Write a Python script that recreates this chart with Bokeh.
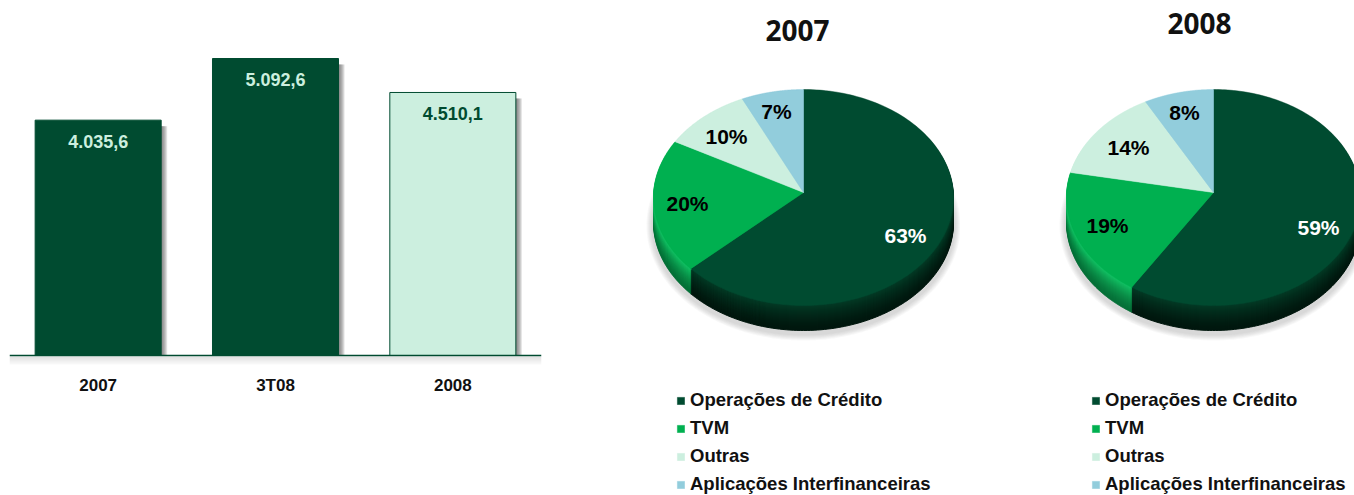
import numpy as np
from bokeh.plotting import figure, ColumnDataSource
from bokeh.layouts import row
from bokeh.models import Range1d, FactorRange, Legend
from bokeh.core.properties import value
from bokeh.transform import dodge
from bokeh.embed import file_html
from bokeh.resources import INLINE

# ---- data ----
bar_categories = ["2007", "3T08", "2008"]
bar_values = [4035.6, 5092.6, 4510.1]
bar_labels = ["4.035,6", "5.092,6", "4.510,1"]
slice_names = ["Operações de Crédito", "TVM", "Outras", "Aplicações Interfinanceiras"]
shares_2007 = [63, 20, 10, 7]
shares_2008 = [59, 19, 14, 8]

# ---- style ----
DARK = "#004B30"
GREEN = "#00B050"
LIGHT = "#CCEFDF"
BLUE = "#92CDDC"
SLICE_COLORS = [DARK, GREEN, LIGHT, BLUE]
TOP_PX, BASE_PX, PAGE_H = 0, 355, 495
PX_PER_UNIT = 297 / 5092.6


def mix(a, b, t):
    ca = [int(a[i:i + 2], 16) for i in (1, 3, 5)]
    cb = [int(b[i:i + 2], 16) for i in (1, 3, 5)]
    return "#%02x%02x%02x" % tuple(round(x + (y - x) * t) for x, y in zip(ca, cb))


# ---- bar chart ----
FRAME_W = 532
bar = figure(width=560, height=PAGE_H, x_range=FactorRange(*bar_categories, range_padding=0, factor_padding=0),
             y_range=Range1d((BASE_PX - PAGE_H) / PX_PER_UNIT, BASE_PX / PX_PER_UNIT),
             output_backend="svg", toolbar_location=None,
             min_border_left=9, min_border_right=19, min_border_top=0, min_border_bottom=0,
             frame_align=False)
bar.frame_width = FRAME_W
bar.frame_height = PAGE_H
bar.outline_line_color = None
bar.grid.visible = False
bar.yaxis.visible = False
bar.xaxis.fixed_location = 0
bar.xaxis.axis_line_color = DARK
bar.xaxis.axis_line_width = 1.5
bar.xaxis.major_tick_line_color = None
bar.xaxis.minor_tick_line_color = None
bar.xaxis.major_label_text_font = "Liberation Sans"
bar.xaxis.major_label_text_font_style = "bold"
bar.xaxis.major_label_text_font_size = "17px"
bar.xaxis.major_label_text_color = "#111111"
bar.xaxis.major_label_standoff = 14

# soft shadow below the base line
for i in range(1, 9):
    bar.hbar(y=-(i + 0.5) / PX_PER_UNIT, left=0, right=3, height=1 / PX_PER_UNIT,
             fill_color="#808080", fill_alpha=0.26 * (1 - i / 10), line_color=None)

src = ColumnDataSource(dict(
    cat=bar_categories, val=bar_values, lab=bar_labels,
    shadow=[v - 6 / PX_PER_UNIT for v in bar_values],
    fill=[DARK, DARK, LIGHT], edge=[DARK, DARK, DARK], txt=[LIGHT, LIGHT, DARK]))
BAR_W = 126 / 177.3
for off in range(1, 7):
    bar.vbar(x=dodge("cat", off / 177.3, range=bar.x_range), top="shadow", bottom=0, width=BAR_W, source=src,
             fill_color="#555555", fill_alpha=0.17, line_color=None)
bar.vbar(x="cat", top="val", bottom=0, width=BAR_W, source=src, fill_color="fill", line_color="edge", line_width=1)
bar.text(x="cat", y="val", text="lab", source=src, text_color="txt", text_align="center", text_baseline="middle",
         y_offset=21, text_font=value("Liberation Sans"), text_font_style="bold", text_font_size="18px")


# ---- pies ----
def pie(width, x0, title, title_xy, shares, cx, rx, labels_xy, legend_x):
    p = figure(width=width, height=PAGE_H, x_range=Range1d(x0, x0 + width), y_range=Range1d(PAGE_H, TOP_PX),
               x_axis_type=None, y_axis_type=None, output_backend="svg", toolbar_location=None,
               min_border=0, outline_line_color=None, frame_align=False)
    p.grid.visible = False
    cy, ry, apex_y, depth = 197, 108, 192, 25
    edges = np.cumsum([0] + shares) / sum(shares) * 2 * np.pi
    t = np.linspace(0, 2 * np.pi, 361)
    # soft shadow under the disc
    for k in range(6):
        p.patch(cx + (rx + 7 - k) * np.sin(t), cy + depth + 3 + (ry + 7 - k) * np.cos(t),
                fill_color="#707070", fill_alpha=0.05, line_color=None)

    def wedge(i, dy):
        # rays leave the off-centre apex and stop on the rim of the tilted disc
        a = np.linspace(edges[i], edges[i + 1], 180)
        ux, uy = np.sin(a), -np.cos(a)
        off = (apex_y - cy) / ry
        s = -off * uy + np.sqrt((off * uy) ** 2 - (off ** 2 - 1))
        return (np.r_[cx, cx + s * rx * ux], np.r_[apex_y + dy, apex_y + dy + s * ry * uy])

    side_from = [("#01170E", "#033A25"), ("#067038", "#12C264"), ("#A8D8C0", LIGHT), ("#6FA8B8", BLUE)]
    for d in range(depth, 0, -1):
        f = 1 - d / depth
        for i in range(len(shares)):
            xs, ys = wedge(i, d)
            col = mix(side_from[i][0], side_from[i][1], f ** 1.5)
            p.patch(xs, ys, fill_color=col, line_color=col, line_width=1)
    renderers = []
    for i in range(len(shares)):
        xs, ys = wedge(i, 0)
        renderers.append(p.patch(xs, ys, fill_color=SLICE_COLORS[i], line_color=SLICE_COLORS[i], line_width=0.5))
    lx, ly = zip(*labels_xy)
    p.text(x=list(lx), y=list(ly), text=[f"{s}%" for s in shares],
           text_color=["#FFFFFF", "#000000", "#000000", "#000000"], text_align="center", text_baseline="middle",
           text_font=value("Liberation Sans"), text_font_style="bold", text_font_size="21px")
    p.text(x=[title_xy[0]], y=[title_xy[1]], text=[title], text_color="#111111", text_align="center",
           text_baseline="middle", text_font=value("Open Sans"), text_font_style="bold", text_font_size="28px")
    leg = Legend(items=[(n, [r]) for n, r in zip(slice_names, renderers)], location=(legend_x - x0, 0),
                 orientation="vertical", border_line_color=None, background_fill_alpha=0, padding=0, margin=0,
                 spacing=6, label_height=16, glyph_height=9, glyph_width=9, label_standoff=5,
                 label_text_font="Liberation Sans", label_text_font_style="bold", label_text_font_size="18.5px",
                 label_text_color="#111111")
    p.add_layout(leg, "center")
    return p


p1 = pie(400, 560, "2007", (797, 30), shares_2007, 803, 150,
         [(905, 235), (687, 203), (726, 136), (776, 111)], 676)
p2 = pie(394, 960, "2008", (1199, 23), shares_2008, 1213, 147,
         [(1318, 227), (1107, 225), (1128, 147), (1184, 112)], 1091)

page = row(bar, p1, p2, spacing=0)
open("out.html", "w").write(file_html(page, INLINE))
